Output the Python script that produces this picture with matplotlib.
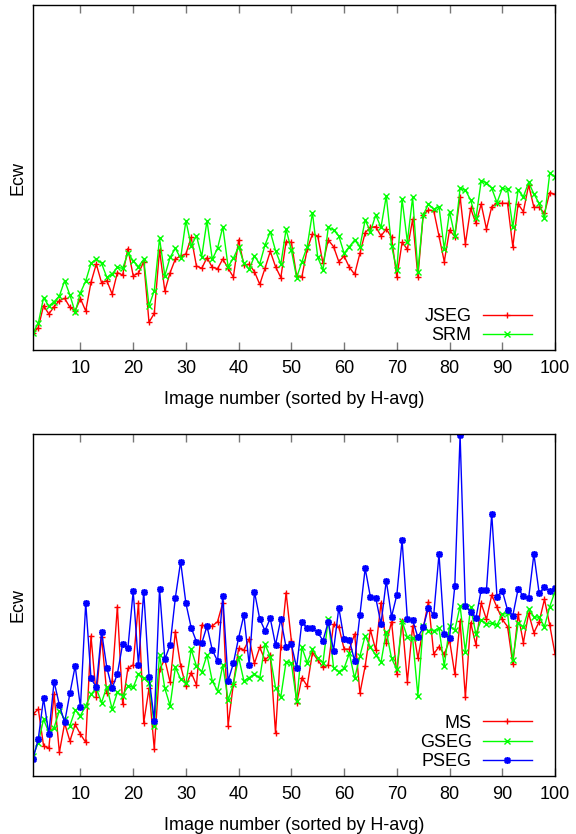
import numpy as np
import matplotlib
matplotlib.use("Agg")
import matplotlib.pyplot as plt

plt.rcParams['font.family'] = ['Liberation Sans', 'DejaVu Sans']

image_number = list(range(1, 101))
x_ticks = [10, 20, 30, 40, 50, 60, 70, 80, 90, 100]

# Top panel (arbitrary Ecw units)
jseg = [52, 67, 133, 108, 130, 148, 155, 128, 118, 154,
        117, 203, 258, 202, 208, 168, 232, 225, 304, 223,
        230, 265, 83, 110, 300, 177, 232, 273, 282, 288,
        338, 252, 245, 277, 248, 244, 273, 245, 219, 330,
        255, 257, 235, 197, 245, 296, 250, 217, 325, 323,
        222, 220, 302, 348, 342, 260, 330, 310, 265, 282,
        248, 227, 290, 352, 368, 370, 342, 363, 338, 218,
        323, 302, 392, 220, 405, 420, 418, 342, 265, 360,
        340, 460, 318, 425, 380, 438, 363, 430, 440, 440,
        440, 310, 438, 415, 495, 428, 428, 410, 472, 467]
srm = [52, 80, 157, 132, 145, 162, 208, 165, 113, 172,
       207, 260, 273, 260, 218, 228, 248, 245, 290, 268,
       250, 272, 132, 178, 335, 223, 278, 305, 275, 388,
       312, 343, 280, 388, 272, 305, 370, 250, 275, 310,
       260, 242, 282, 258, 315, 355, 298, 257, 362, 300,
       217, 265, 310, 412, 278, 240, 368, 360, 342, 290,
       310, 330, 310, 390, 355, 405, 368, 462, 312, 240,
       452, 325, 458, 235, 405, 438, 422, 430, 303, 415,
       342, 485, 480, 450, 395, 507, 502, 485, 442, 485,
       482, 368, 480, 460, 503, 468, 440, 395, 530, 520]

# Bottom panel
ms = [185, 201, 91, 83, 245, 71, 158, 105, 155, 125,
      101, 420, 238, 418, 248, 286, 508, 215, 323, 333,
      520, 160, 263, 81, 320, 350, 281, 433, 330, 270,
      310, 273, 453, 448, 450, 463, 520, 151, 276, 383,
      378, 411, 338, 386, 348, 363, 128, 388, 550, 406,
      218, 295, 270, 370, 348, 326, 333, 455, 448, 381,
      380, 426, 248, 330, 438, 378, 520, 398, 463, 306,
      465, 283, 450, 353, 443, 523, 366, 388, 365, 408,
      305, 465, 236, 460, 393, 518, 470, 543, 506, 470,
      448, 336, 485, 400, 488, 430, 463, 530, 453, 366]
gseg = [60, 100, 170, 131, 145, 196, 170, 151, 198, 181,
        211, 245, 263, 220, 268, 201, 251, 241, 270, 266,
        306, 293, 280, 151, 363, 263, 211, 326, 291, 278,
        380, 330, 313, 363, 285, 255, 333, 228, 276, 356,
        285, 295, 306, 293, 395, 358, 265, 238, 343, 338,
        225, 386, 340, 380, 353, 340, 471, 325, 313, 323,
        368, 293, 360, 421, 386, 363, 341, 433, 353, 320,
        465, 416, 413, 241, 450, 436, 436, 443, 330, 450,
        438, 510, 373, 506, 426, 468, 456, 458, 453, 485,
        488, 348, 458, 448, 501, 478, 476, 448, 508, 553]
pseg = [51, 111, 233, 126, 283, 213, 161, 248, 330, 206,
        520, 293, 266, 433, 325, 263, 306, 396, 383, 555,
        333, 553, 298, 166, 561, 350, 393, 535, 643, 518,
        445, 403, 398, 450, 378, 345, 540, 285, 338, 415,
        483, 333, 553, 471, 436, 473, 393, 471, 386, 395,
        325, 463, 443, 443, 431, 406, 463, 376, 505, 410,
        408, 345, 483, 623, 536, 535, 456, 586, 478, 543,
        708, 470, 468, 416, 446, 505, 483, 666, 426, 415,
        570, 1023, 511, 493, 473, 558, 558, 786, 538, 556,
        498, 481, 561, 540, 533, 666, 548, 566, 555, 564]

RED = '#ff0000'
GREEN = '#00ff00'
BLUE = '#0000ff'
FS = 13

fig = plt.figure(figsize=(5.76, 8.34), dpi=100)
ax1 = fig.add_axes([33 / 576, 1 - 350 / 834, 522 / 576, 345 / 834])
ax2 = fig.add_axes([33 / 576, 1 - 776 / 834, 522 / 576, 342 / 834])

ms_kw = dict(lw=1.0, markersize=4.2, markeredgewidth=1.0)

ax1.plot(image_number, jseg, color=RED, marker='+', label='JSEG', **ms_kw)
ax1.plot(image_number, srm, color=GREEN, marker='x', label='SRM', **ms_kw)
ax1.set_ylim(0, 1035)

ax2.plot(image_number, ms, color=RED, marker='+', label='MS', **ms_kw)
ax2.plot(image_number, gseg, color=GREEN, marker='x', label='GSEG', **ms_kw)
ax2.plot(image_number, pseg, color=BLUE, marker=(8, 2, 0), label='PSEG',
         lw=1.0, markersize=5.0, markeredgewidth=1.2)
ax2.set_ylim(0, 1026)

for ax in (ax1, ax2):
    ax.set_xlim(1, 100)
    ax.set_xticks(x_ticks)
    ax.set_yticks([])
    ax.tick_params(axis='x', direction='in', top=True, length=6, width=1,
                   color='#777777', labelsize=FS, pad=7)
    for s in ax.spines.values():
        s.set_linewidth(1.0)
        s.set_color('black')
    ax.set_xlabel('Image number (sorted by H-avg)', fontsize=FS, labelpad=10)
    ax.set_ylabel('Ecw', fontsize=FS, labelpad=5)
    ax.legend(loc='lower right', bbox_to_anchor=(0.970, -0.004),
              markerfirst=False, frameon=False, fontsize=FS,
              handlelength=2.74, handletextpad=0.61, labelspacing=0.12,
              borderaxespad=0.0)

fig.savefig('out.png', dpi=100)
